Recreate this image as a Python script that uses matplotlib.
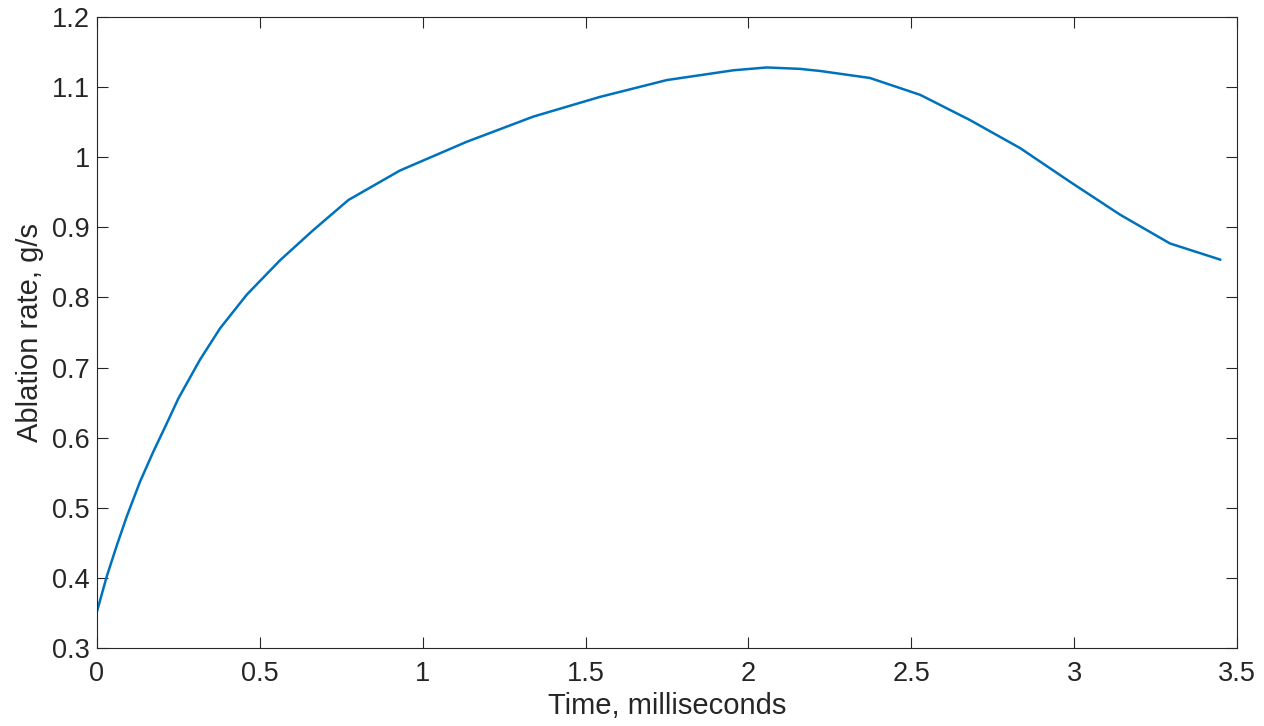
import numpy as np
import matplotlib.pyplot as plt

# values
time_ms = [0.0, 0.030, 0.060, 0.091, 0.132, 0.173, 0.214, 0.250, 0.316,
           0.378, 0.460, 0.562, 0.664, 0.772, 0.930, 1.135, 1.340, 1.544,
           1.749, 1.954, 2.056, 2.158, 2.220, 2.373, 2.527, 2.680, 2.834,
           2.987, 3.141, 3.294, 3.448]
ablation = [0.352, 0.402, 0.445, 0.487, 0.537, 0.580, 0.620, 0.656, 0.711,
            0.756, 0.804, 0.853, 0.896, 0.939, 0.981, 1.022, 1.058, 1.086,
            1.110, 1.124, 1.128, 1.126, 1.123, 1.113, 1.089, 1.053, 1.013,
            0.965, 0.918, 0.877, 0.854]

xticks = [0, 0.5, 1, 1.5, 2, 2.5, 3, 3.5]
xlabels = ['0', '0.5', '1', '1.5', '2', '2.5', '3', '3.5']
yticks = [0.3, 0.4, 0.5, 0.6, 0.7, 0.8, 0.9, 1, 1.1, 1.2]
ylabels = ['0.3', '0.4', '0.5', '0.6', '0.7', '0.8', '0.9', '1', '1.1', '1.2']

plt.rcParams['font.family'] = ['Liberation Sans', 'DejaVu Sans']
axcol = '#262626'

fig = plt.figure(figsize=(12.64, 7.26), dpi=100)
ax = fig.add_axes([0.0767, 0.1074, 0.902, 0.8692])
ax.plot(time_ms, ablation, color='#0072BD', lw=1.8, solid_joinstyle='round')

ax.set_xlim(0, 3.5)
ax.set_ylim(0.3, 1.2)
ax.set_xticks(xticks)
ax.set_xticklabels(xlabels)
ax.set_yticks(yticks)
ax.set_yticklabels(ylabels)
ax.tick_params(direction='in', top=True, right=True, length=8, width=0.8,
               colors=axcol, labelsize=19.5, pad=5)
ax.tick_params(axis='x', pad=9)
for s in ax.spines.values():
    s.set_color(axcol)
    s.set_linewidth(0.8)
ax.set_xlabel('Time, milliseconds', fontsize=21, color=axcol, labelpad=4)
ax.set_ylabel('Ablation rate, g/s', fontsize=21, color=axcol, labelpad=6)

fig.savefig('out.png', dpi=100)
